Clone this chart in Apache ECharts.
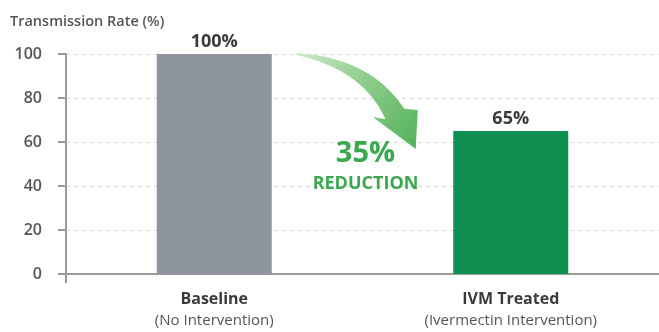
<!DOCTYPE html>
<html>
<head>
<meta charset="utf-8">
<script src="https://cdn.jsdelivr.net/npm/echarts@6/dist/echarts.min.js"></script>
<style>
  html, body { margin: 0; padding: 0; background: #ffffff; }
  #chart { width: 659px; height: 332px; }
</style>
</head>
<body>
<div id="chart"></div>
<script>
// Transmission rate before and after the ivermectin intervention
const categories = ['Baseline', 'IVM Treated'];
const subLabels = ['(No Intervention)', '(Ivermectin Intervention)'];
const rates = [100, 65];
const barColors = ['#8e959f', '#0f8f50'];
const yMin = 0;
const yMax = 100;
const yStep = 20;
const axisTitle = 'Transmission Rate (%)';
const reductionWord = 'REDUCTION';

const FONT = '"Open Sans", "Noto Sans", sans-serif';
const chart = echarts.init(document.getElementById('chart'), null, { renderer: 'canvas' });

chart.setOption({
  backgroundColor: '#ffffff',
  animation: false,
  title: {
    text: axisTitle,
    left: 5,
    top: 9,
    textStyle: { fontFamily: FONT, fontSize: 14.5, fontWeight: 600, color: '#555555' }
  },
  grid: { left: 66, top: 54, width: 596, height: 220, containLabel: false },
  xAxis: {
    type: 'category',
    data: categories,
    boundaryGap: true,
    axisLine: { lineStyle: { color: '#9a9a9a', width: 2 } },
    axisTick: { show: false },
    axisLabel: {
      margin: 15,
      interval: 0,
      formatter: (v, i) => '{a|' + v + '}\n{b|' + subLabels[i] + '}',
      rich: {
        a: { fontFamily: FONT, fontSize: 16, fontWeight: 'bold', color: '#3a3a3a', lineHeight: 21 },
        b: { fontFamily: FONT, fontSize: 15, color: '#555555', lineHeight: 21 }
      }
    }
  },
  yAxis: {
    type: 'value',
    min: yMin,
    max: yMax,
    interval: yStep,
    axisLine: { show: true, lineStyle: { color: '#9a9a9a', width: 2 } },
    axisTick: { show: true, length: 8, lineStyle: { color: '#9a9a9a', width: 2 } },
    axisLabel: { margin: 24, fontFamily: FONT, fontSize: 16, fontWeight: 600, color: '#555555' },
    splitLine: { show: true, lineStyle: { color: '#d9d9d9', type: [4, 4], width: 1 } }
  },
  series: [{
    type: 'bar',
    barWidth: 115,
    data: rates.map((v, i) => ({ value: v, itemStyle: { color: barColors[i] } })),
    label: {
      show: true,
      position: 'top',
      distance: 3,
      formatter: '{c}%',
      fontFamily: FONT,
      fontSize: 18,
      fontWeight: 'bold',
      color: '#3a3a3a'
    },
    z: 3
  }]
});

// Curved "reduction" arrow and its caption, anchored to the two bar tops
const topA = chart.convertToPixel({ seriesIndex: 0 }, [0, rates[0]]);
const zeroA = chart.convertToPixel({ seriesIndex: 0 }, [0, 0]);
const topB = chart.convertToPixel({ seriesIndex: 0 }, [1, rates[1]]);
const gridLeft = 66;

const p0 = [topA[0] + 82, topA[1]];
const p1 = [topA[0] + 153, topA[1] + 10];
const p2 = [topB[0] - 116, topA[1] + 60];

function bez(t) {
  const u = 1 - t;
  return [u * u * p0[0] + 2 * u * t * p1[0] + t * t * p2[0],
          u * u * p0[1] + 2 * u * t * p1[1] + t * t * p2[1]];
}
function bezD(t) {
  return [2 * (1 - t) * (p1[0] - p0[0]) + 2 * t * (p2[0] - p1[0]),
          2 * (1 - t) * (p1[1] - p0[1]) + 2 * t * (p2[1] - p1[1])];
}
const outer = [], inner = [];
const N = 30;
for (let k = 0; k <= N; k++) {
  const t = k / N;
  const p = bez(t), d = bezD(t);
  const len = Math.hypot(d[0], d[1]);
  const nx = -d[1] / len, ny = d[0] / len;
  const w = (1.5 + 20 * Math.pow(t, 0.9)) / 2;
  outer.push([p[0] - nx * w, p[1] - ny * w]);
  inner.push([p[0] + nx * w, p[1] + ny * w]);
}
const headRight = [p2[0] + 23, p2[1] - 4];
const headTip = [p2[0] + 21, p2[1] + 35];
const headLeft = [p2[0] - 22, p2[1] + 3];
const arrowPts = outer.concat([headRight, headTip, headLeft]).concat(inner.reverse());

const midX = (topA[0] + topB[0]) / 2 + 3;
const reduction = rates[0] - rates[1];

chart.setOption({
  graphic: [
    {
      type: 'polygon',
      shape: { points: arrowPts },
      style: {
        fill: new echarts.graphic.LinearGradient(0, 0, 1, 1, [
          { offset: 0, color: '#cfe9cb' },
          { offset: 0.45, color: '#8fcd8c' },
          { offset: 1, color: '#52b25a' }
        ])
      },
      z: 10
    },
    {
      type: 'text',
      x: midX,
      y: topA[1] + 100,
      style: {
        text: reduction + '%',
        fontFamily: FONT, fontSize: 29, fontWeight: 'bold', fill: '#3aa84f',
        align: 'center', verticalAlign: 'middle'
      },
      z: 10
    },
    {
      type: 'text',
      x: midX,
      y: topA[1] + 130,
      style: {
        text: reductionWord,
        fontFamily: FONT, fontSize: 18, fontWeight: 'bold', fill: '#3aa84f',
        align: 'center', verticalAlign: 'middle'
      },
      z: 10
    },
    {
      type: 'line',
      shape: { x1: gridLeft, y1: zeroA[1], x2: gridLeft, y2: zeroA[1] + 9 },
      style: { stroke: '#9a9a9a', lineWidth: 2 },
      z: 5
    }
  ]
});
</script>
</body>
</html>
